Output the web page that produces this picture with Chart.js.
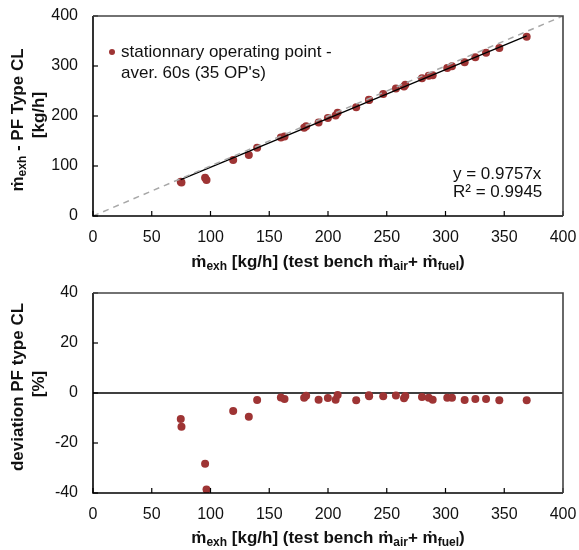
<!DOCTYPE html>
<html><head><meta charset="utf-8">
<script src="https://cdn.jsdelivr.net/npm/chart.js@4.4.1/dist/chart.umd.min.js"></script>
<style>
html,body{margin:0;padding:0;background:#fff;}
#wrap{position:relative;width:579px;height:550px;}
.c{position:absolute;left:0;width:579px;height:275px;}
</style></head>
<body><div id="wrap">
<div class="c" style="top:0"><canvas id="top" width="579" height="275"></canvas></div>
<div class="c" style="top:275px"><canvas id="bot" width="579" height="275"></canvas></div>
</div>
<script>
// ---- data ----
const benchFlow = [74.7, 75.3, 95.4, 96.6, 119.3, 132.6, 139.7, 159.9, 163.0, 179.7, 181.4, 192.0, 199.9, 206.5, 208.2, 224.0, 234.8, 235.0, 247.0, 257.8, 264.7, 265.8, 280.0, 285.7, 289.1, 301.5, 305.5, 316.3, 325.4, 334.5, 345.8, 369.1];
const pfFlow = [68.5, 67.0, 76.6, 72.0, 112.0, 122.0, 136.5, 157.0, 159.1, 176.3, 179.4, 186.8, 195.9, 200.9, 206.5, 217.5, 232.7, 231.9, 243.8, 255.2, 259.1, 262.6, 275.5, 280.3, 281.3, 295.8, 299.7, 307.4, 317.6, 326.5, 335.8, 358.4];
const deviationPct = [-10.4, -13.5, -28.3, -38.6, -7.2, -9.5, -2.8, -1.8, -2.4, -1.9, -1.1, -2.7, -2.0, -2.7, -0.8, -2.9, -0.9, -1.3, -1.3, -1.0, -2.1, -1.2, -1.6, -1.9, -2.7, -1.9, -1.9, -2.8, -2.4, -2.4, -2.9, -2.9];
const identityX = [0, 400];
const identityY = [0, 400];
const trendX = [74.7, 369.1];
const trendY = [72.9, 360.1];
const xTicks = [0, 50, 100, 150, 200, 250, 300, 350, 400];
const yTicksTop = [0, 100, 200, 300, 400];
const yTicksBot = [-40, -20, 0, 20, 40];
const legendLines = ["stationnary operating point -", "aver. 60s (35 OP's)"];
const eqLines = ["y = 0.9757x", "R² = 0.9945"];

const FONT = "'Liberation Sans', Arial, Helvetica, sans-serif";
const PT = '#9e3434';
const TS = 17; // axis title size

function pts(xs, ys){ return xs.map((x,i)=>({x:x, y:ys[i]})); }

function subSize(size){ return Math.round(size*0.68); }
function richWidth(ctx, segs, size){
  let w=0;
  segs.forEach(s=>{ ctx.font = 'bold '+(s[1]?subSize(size):size)+'px '+FONT; w+=ctx.measureText(s[0]).width; });
  return w;
}
function drawRich(ctx, segs, cx, cy, size){
  const w = richWidth(ctx, segs, size);
  let x = cx - w/2;
  ctx.textBaseline='middle'; ctx.textAlign='left';
  segs.forEach(s=>{
    const sz = s[1]?subSize(size):size;
    ctx.font = 'bold '+sz+'px '+FONT;
    ctx.fillText(s[0], x, cy + (s[1]? size*0.28 : 0));
    x += ctx.measureText(s[0]).width;
  });
}

const xTitleSegs = [["ṁ",0],["exh",1],[" [kg/h] (test bench ṁ",0],["air",1],["+ ṁ",0],["fuel",1],[")",0]];

function framePlugin(opts){
  return {
    id:'frame'+opts.name,
    beforeDatasetsDraw(chart){
      if(opts.zeroLine){
        const ctx=chart.ctx, a=chart.chartArea, y=chart.scales.y.getPixelForValue(0);
        ctx.save(); ctx.strokeStyle='#000'; ctx.lineWidth=1.3;
        ctx.beginPath(); ctx.moveTo(a.left,y); ctx.lineTo(a.right,y); ctx.stroke(); ctx.restore();
      }
    },
    afterDraw(chart){
      const ctx=chart.ctx, a=chart.chartArea, xs=chart.scales.x, ys=chart.scales.y;
      ctx.save();
      ctx.strokeStyle='#000'; ctx.lineWidth=1.2;
      xTicks.forEach(v=>{ const px=xs.getPixelForValue(v); ctx.beginPath(); ctx.moveTo(px,a.bottom); ctx.lineTo(px,a.bottom-5); ctx.stroke(); });
      opts.yTicks.forEach(v=>{ const py=ys.getPixelForValue(v); ctx.beginPath(); ctx.moveTo(a.left,py); ctx.lineTo(a.left+5,py); ctx.stroke(); });
      ctx.lineWidth=1.6; ctx.strokeStyle='#000';
      ctx.beginPath(); ctx.moveTo(a.left,a.top); ctx.lineTo(a.left,a.bottom); ctx.lineTo(a.right,a.bottom); ctx.stroke();
      ctx.strokeStyle='#444'; ctx.lineWidth=1.6;
      ctx.beginPath(); ctx.moveTo(a.left,a.top); ctx.lineTo(a.right,a.top); ctx.lineTo(a.right,a.bottom); ctx.stroke();
      ctx.fillStyle='#111';
      drawRich(ctx, xTitleSegs, (a.left+a.right)/2, a.bottom+opts.xTitleOff, TS);
      ctx.save();
      ctx.translate(18, opts.yTitleCy); ctx.rotate(-Math.PI/2);
      drawRich(ctx, opts.yTitle1, 0, 0, TS);
      ctx.restore();
      ctx.save();
      ctx.translate(39, opts.yTitleCy2); ctx.rotate(-Math.PI/2);
      drawRich(ctx, opts.yTitle2, 0, 0, TS);
      ctx.restore();
      if(opts.legend){
        ctx.fillStyle=PT; ctx.beginPath(); ctx.arc(112,52,3,0,Math.PI*2); ctx.fill();
        ctx.fillStyle='#111'; ctx.font='17px '+FONT; ctx.textAlign='left'; ctx.textBaseline='middle';
        ctx.fillText(legendLines[0],121,52); ctx.fillText(legendLines[1],121,73);
        ctx.fillText(eqLines[0],453,174); ctx.fillText(eqLines[1],453,192);
      }
      ctx.restore();
    }
  };
}

function baseOptions(yMin,yMax,padTop,axisH){
  return {
    responsive:false, animation:false, devicePixelRatio:1,
    layout:{padding:{left:0,right:16,top:padTop,bottom:0}},
    plugins:{legend:{display:false},tooltip:{enabled:false}},
    scales:{
      x:{type:'linear',min:0,max:400,
        afterBuildTicks(s){ s.ticks = xTicks.map(v=>({value:v})); },
        afterFit(s){ s.height = axisH; s.paddingLeft = 0; s.paddingRight = 0; },
        grid:{display:false}, border:{display:false},
        ticks:{color:'#111',font:{size:16,family:FONT},padding:4,maxRotation:0,autoSkip:false}},
      y:{type:'linear',min:yMin,max:yMax,
        afterFit(s){ s.width = 93; s.paddingTop = 0; s.paddingBottom = 0; },
        grid:{display:false}, border:{display:false},
        ticks:{color:'#111',font:{size:16,family:FONT},padding:7}}
    }
  };
}

const oTop = baseOptions(0,400,16,59);
oTop.scales.y.afterBuildTicks = s=>{ s.ticks = yTicksTop.map(v=>({value:v})); };
new Chart(document.getElementById('top'),{
  type:'scatter',
  data:{datasets:[
    {type:'line',data:pts(identityX,identityY),borderColor:'#a8a8a8',borderWidth:1.5,borderDash:[6,5],pointRadius:0,fill:false},
    {type:'line',data:pts(trendX,trendY),borderColor:'#000',borderWidth:1.3,pointRadius:0,fill:false},
    {data:pts(benchFlow,pfFlow),backgroundColor:PT,borderColor:PT,pointRadius:4,borderWidth:0}
  ]},
  options:oTop,
  plugins:[framePlugin({name:'t',yTicks:yTicksTop,xTitleOff:46,yTitleCy:120,yTitleCy2:115,legend:true,
    yTitle1:[["ṁ",0],["exh",1],[" - PF Type CL",0]], yTitle2:[["[kg/h]",0]]})]
});

const oBot = baseOptions(-40,40,18,57);
oBot.scales.y.afterBuildTicks = s=>{ s.ticks = yTicksBot.map(v=>({value:v})); };
new Chart(document.getElementById('bot'),{
  type:'scatter',
  data:{datasets:[
    {data:pts(benchFlow,deviationPct),backgroundColor:PT,borderColor:PT,pointRadius:4,borderWidth:0}
  ]},
  options:oBot,
  plugins:[framePlugin({name:'b',yTicks:yTicksBot,xTitleOff:45,yTitleCy:112,yTitleCy2:109,zeroLine:true,
    yTitle1:[["deviation PF type CL",0]], yTitle2:[["[%]",0]]})]
});
</script>
</body></html>
